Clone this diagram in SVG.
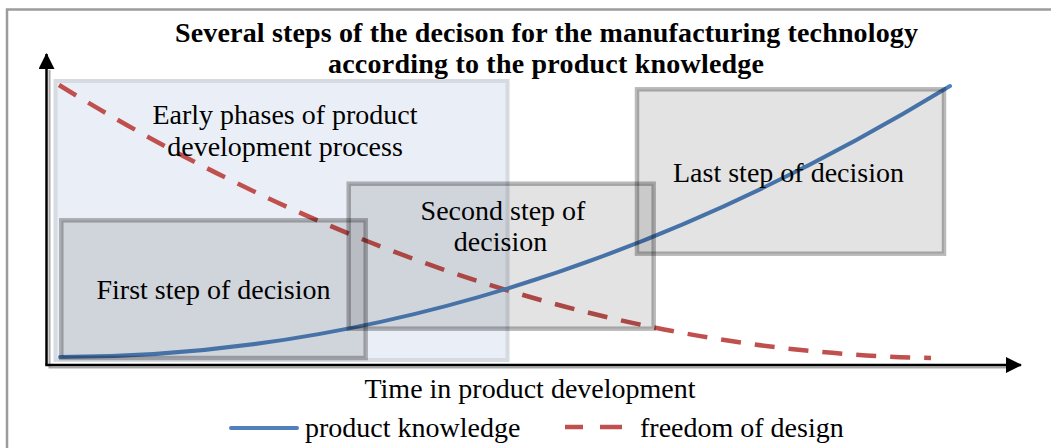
<svg xmlns="http://www.w3.org/2000/svg" width="1051" height="448" viewBox="0 0 1051 448">
  <style>
    text { font-family: "Liberation Serif", "Times New Roman", serif; font-size: 28px; fill: #000; }
    .title { font-weight: bold; text-anchor: middle; }
    .mid { text-anchor: middle; }
    .frame { fill: #fff; stroke: #9c9c9c; stroke-width: 2.5; }
    .axis { stroke: #000; stroke-width: 2.5; fill: none; }
    .axis-shadow { stroke: #a8a8a8; stroke-width: 2; fill: none; }
    .knowledge { stroke: #4f81bd; stroke-width: 4; fill: none; stroke-linecap: round; }
    .freedom { stroke: #c0504d; stroke-width: 4.5; fill: none; stroke-dasharray: 20 14; }
    .phase { fill: #eaeff7; stroke: #d6dbe2; stroke-width: 4; }
    .step rect { fill: #000; fill-opacity: 0.11; stroke: #000; stroke-opacity: 0.27; stroke-width: 4.5; }
  </style>
  <defs>
    <marker id="arrow" viewBox="0 0 16 16" refX="15" refY="8" markerWidth="16" markerHeight="16" markerUnits="userSpaceOnUse" orient="auto">
      <path d="M0,0 L16,8 L0,16 Z" fill="#000"/>
    </marker>
  </defs>

  <!-- outer frame -->
  <rect class="frame" x="7" y="9.5" width="1100" height="460"/>

  <!-- title -->
  <text class="title" x="546.5" y="42" textLength="743" lengthAdjust="spacing">Several steps of the decison for the manufacturing technology</text>
  <text class="title" x="546" y="73" textLength="436" lengthAdjust="spacing">according to the product knowledge</text>

  <!-- early phase region -->
  <g id="early-phases">
    <rect class="phase" x="55.5" y="81" width="452" height="279"/>
  </g>

  <!-- axes -->
  <g id="axes">
    <path class="axis-shadow" d="M49.5,70 V367.5 H1006"/>
    <path class="axis" d="M46.5,365 V54" marker-end="url(#arrow)"/>
    <path class="axis" d="M45.3,365 H1021" marker-end="url(#arrow)"/>
  </g>

  <!-- curves -->
  <g id="connectors">
    <path class="freedom" d="M59,85 Q490,350 931,358"/>
    <path class="knowledge" d="M60,357 Q505,357 950,86"/>
  </g>

  <!-- decision steps -->
  <g id="first-step" class="step">
    <rect x="61.3" y="220.3" width="304.4" height="137.7"/>
  </g>
  <g id="second-step" class="step">
    <rect x="348.7" y="183.7" width="305" height="145"/>
  </g>
  <g id="last-step" class="step">
    <rect x="637" y="89.3" width="307" height="164.4"/>
  </g>

  <!-- labels -->
  <g id="labels">
    <text class="mid" x="285" y="124">Early phases of product</text>
    <text class="mid" x="285" y="156">development process</text>
    <text class="mid" x="503" y="220">Second step of</text>
    <text class="mid" x="500.5" y="251">decision</text>
    <text class="mid" x="788.5" y="182">Last step of decision</text>
    <text class="mid" x="213.5" y="299">First step of decision</text>
    <text class="mid" x="530" y="398">Time in product development</text>
  </g>

  <!-- legend -->
  <g id="legend">
    <path class="knowledge" d="M231,428 H297" stroke-linecap="butt"/>
    <text x="305" y="437">product knowledge</text>
    <path d="M565,427 H583 M600,427 H622" stroke="#c0504d" stroke-width="4.5" fill="none"/>
    <text x="640" y="437">freedom of design</text>
  </g>
</svg>
